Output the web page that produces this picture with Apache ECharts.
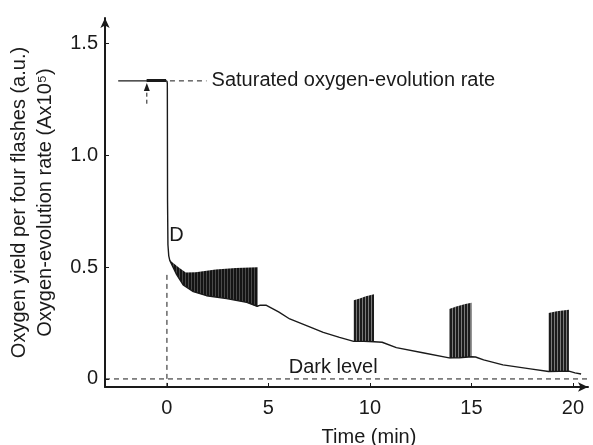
<!DOCTYPE html>
<html>
<head>
<meta charset="utf-8">
<script src="https://cdn.jsdelivr.net/npm/echarts@6/dist/echarts.min.js"></script>
<style>html,body{margin:0;padding:0;background:#fff}#c{width:593px;height:445px}</style>
</head>
<body>
<div id="c"></div>
<script>
// ---- data ----
const xTicks = [0, 5, 10, 15, 20];
const yTicks = [0, 0.5, 1.0, 1.5];
const yTickLabels = ['0', '0.5', '1.0', '1.5'];

// steady-state (saturated) level before darkness
const preDark = [[-2.4, 1.332], [0, 1.332]];
const preDarkThick = [[-1.0, 1.334], [-0.04, 1.334]];

// continuous trace (follows the lower envelope through the flash bursts)
const trace = [
  [0, 1.332], [0.02, 1.32], [0.03, 0.8], [0.05, 0.6], [0.09, 0.55], [0.14, 0.53],
  [0.48, 0.466], [0.8, 0.42], [1.3, 0.39], [1.95, 0.372], [2.94, 0.359], [3.93, 0.342], [4.45, 0.325],
  [4.6, 0.33], [4.9, 0.329], [5.5, 0.30], [6.05, 0.268], [7.0, 0.234], [7.7, 0.208], [8.5, 0.186], [9.2, 0.168],
  [9.7, 0.168], [10.2, 0.166],
  [10.6, 0.164], [11.3, 0.14], [12.6, 0.117], [13.9, 0.094],
  [14.4, 0.095], [15.0, 0.099],
  [15.2, 0.098], [15.6, 0.085], [16.55, 0.063], [17.9, 0.045], [18.8, 0.033],
  [19.3, 0.034], [19.8, 0.035],
  [20.1, 0.027], [20.4, 0.022]
];

// flash bursts: lower and upper envelopes of the oscillations
const burst1Lower = [[0.14, 0.53], [0.48, 0.466], [0.8, 0.42], [1.3, 0.39], [1.95, 0.372], [2.94, 0.359], [3.93, 0.342], [4.47, 0.322]];
const burst1Upper = [[0.14, 0.53], [0.2, 0.526], [0.6, 0.497], [0.93, 0.476], [1.42, 0.477], [2.4, 0.489], [3.4, 0.496], [4.47, 0.499]];
const burst2Lower = [[9.2, 0.168], [9.7, 0.168], [10.2, 0.166]];
const burst2Upper = [[9.2, 0.352], [9.5, 0.36], [9.8, 0.37], [10.2, 0.378]];
const burst3Lower = [[13.9, 0.092], [14.4, 0.095], [15.0, 0.099]];
const burst3Upper = [[13.9, 0.313], [14.3, 0.325], [14.7, 0.335], [15.0, 0.34]];
const burst4Lower = [[18.8, 0.033], [19.3, 0.034], [19.8, 0.035]];
const burst4Upper = [[18.8, 0.295], [19.2, 0.302], [19.5, 0.306], [19.8, 0.309]];

// reference lines
const satDash = [[0.15, 1.332], [1.95, 1.332]];
const darkDash = [[-3.05, 0.0], [20.74, 0.0]];
const zeroDash = [[0, 0.465], [0, -0.036]];
const arrowDash = [[-0.99, 1.23], [-0.99, 1.30]];
const arrowHead = [[-0.99, 1.305]];

// annotations
const labels = [
  {name: 'Saturated oxygen-evolution rate', value: [2.2, 1.336]},
  {name: 'D', value: [0.12, 0.643]},
  {name: 'Dark level', value: [6.0, 0.051]}
];

const bursts = [
  {lower: burst1Lower, upper: burst1Upper, dense: true},
  {lower: burst2Lower, upper: burst2Upper, dense: false},
  {lower: burst3Lower, upper: burst3Upper, dense: false},
  {lower: burst4Lower, upper: burst4Upper, dense: false}
];

// ---- stripe patterns to mimic dense flash oscillations ----
function makePattern(w, darkW, dark, light) {
  const c = document.createElement('canvas');
  c.width = w; c.height = 4;
  const g = c.getContext('2d');
  g.fillStyle = light; g.fillRect(0, 0, w, 4);
  g.fillStyle = dark; g.fillRect(0, 0, darkW, 4);
  return c;
}
const densePat = makePattern(3, 2, '#141414', '#4a4a4a');
const lightPat = makePattern(3, 2, '#1c1c1c', '#7a7a7a');

const FONT = "'Liberation Sans', Arial, Helvetica, sans-serif";
const INK = '#1a1a1a';

const chart = echarts.init(document.getElementById('c'), null, {renderer: 'canvas'});
chart.setOption({
  animation: false,
  backgroundColor: '#fff',
  grid: {left: 105, right: 5, top: 18, bottom: 58, containLabel: false, outerBoundsMode: 'none'},
  xAxis: {
    type: 'value', min: -3.05, max: 20.74,
    splitLine: {show: false},
    axisLine: {onZero: false, lineStyle: {color: INK, width: 2}, symbol: ['none', 'arrow'], symbolSize: [7, 10]},
    axisTick: {inside: true, length: 4, lineStyle: {color: INK, width: 1}, customValues: xTicks},
    axisLabel: {customValues: xTicks, margin: 11, color: INK, fontSize: 20, fontFamily: FONT},
    name: 'Time (min)', nameLocation: 'middle', nameGap: 40,
    nameTextStyle: {color: INK, fontSize: 20, fontFamily: FONT, padding: [0, 0, 0, 45]}
  },
  yAxis: {
    type: 'value', min: -0.036, max: 1.613,
    splitLine: {show: false},
    axisLine: {onZero: false, lineStyle: {color: INK, width: 2}, symbol: ['none', 'arrow'], symbolSize: [7, 10]},
    axisTick: {inside: true, length: 4, lineStyle: {color: INK, width: 1}, customValues: yTicks},
    axisLabel: {customValues: yTicks, margin: 7, color: INK, fontSize: 20, fontFamily: FONT,
      formatter: function (v) { const i = yTicks.indexOf(v); return i >= 0 ? yTickLabels[i] : ''; }},
    name: 'Oxygen yield per four flashes (a.u.)\nOxygen-evolution rate (Ax10\u2075)',
    nameLocation: 'middle', nameGap: 47, nameRotate: 90,
    nameTextStyle: {color: INK, fontSize: 20, lineHeight: 26, fontFamily: FONT}
  },
  series: [
    {
      type: 'custom', silent: true, z: 2,
      data: bursts.map((b, i) => [b.lower[0][0], b.lower[0][1], i]),
      encode: {x: 0, y: 1},
      renderItem: function (params, api) {
        const b = bursts[api.value(2)];
        const pts = b.lower.map(p => api.coord(p)).concat(b.upper.slice().reverse().map(p => api.coord(p)));
        return {
          type: 'polygon',
          shape: {points: pts},
          style: {fill: {image: b.dense ? densePat : lightPat, repeat: 'repeat'}, stroke: null}
        };
      }
    },
    {type: 'line', data: preDark, showSymbol: false, lineStyle: {color: INK, width: 1.3}, z: 3},
    {type: 'line', data: preDarkThick, showSymbol: false, lineStyle: {color: INK, width: 3}, z: 3},
    {type: 'line', data: trace, showSymbol: false, lineStyle: {color: INK, width: 1.4}, z: 3},
    {type: 'line', data: satDash, showSymbol: false, lineStyle: {color: INK, width: 1, type: [5, 4]}, z: 3},
    {type: 'line', data: darkDash, showSymbol: false, lineStyle: {color: INK, width: 1, type: [5, 4]}, z: 3},
    {type: 'line', data: zeroDash, showSymbol: false, lineStyle: {color: INK, width: 1, type: [5, 4]}, z: 3},
    {type: 'line', data: arrowDash, showSymbol: false, lineStyle: {color: INK, width: 1, type: [4, 3]}, z: 3},
    {type: 'scatter', data: arrowHead, symbol: 'triangle', symbolSize: [6, 8], itemStyle: {color: INK, opacity: 1}, z: 4},
    {
      type: 'scatter', data: labels, symbolSize: 0, z: 5, itemStyle: {opacity: 1},
      label: {show: true, position: 'right', distance: 0, formatter: '{b}', color: INK, opacity: 1, fontSize: 20, fontFamily: FONT}
    }
  ]
});
</script>
</body>
</html>
